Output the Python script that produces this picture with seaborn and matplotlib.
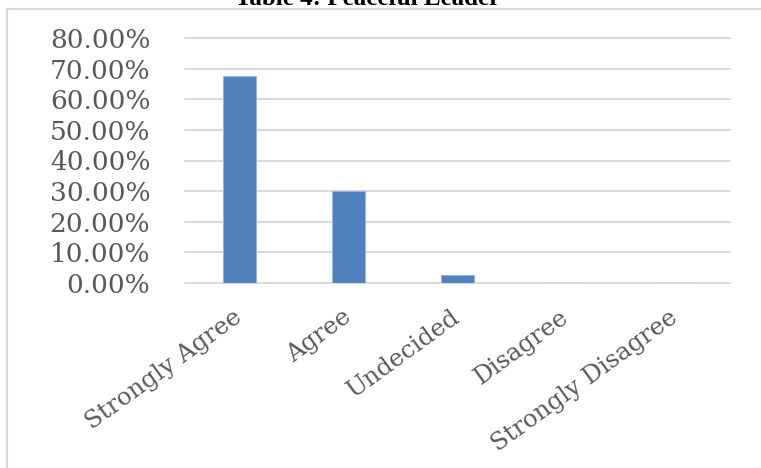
import matplotlib
matplotlib.use("Agg")
import matplotlib.pyplot as plt
import seaborn as sns
from matplotlib.patches import Rectangle
from matplotlib.ticker import FuncFormatter, MultipleLocator

# Survey responses for "Peaceful Leader" (percent of respondents)
categories = ["Strongly Agree", "Agree", "Undecided", "Disagree", "Strongly Disagree"]
percentages = [67.5, 30.0, 2.5, 0.0, 0.0]
title_text = "Table 4: Peaceful Leader"

sns.set_style("white")

W, H = 761, 468
fig = plt.figure(figsize=(W / 100, H / 100), dpi=100)
ax = fig.add_axes([185 / W, 1 - 283 / H, (730 - 185) / W, (283 - 38) / H])

sns.barplot(x=categories, y=percentages, color="#4f81bd", width=0.31,
            edgecolor="#9bb4dc", linewidth=0.8, saturation=1, ax=ax)

ax.set_xlim(-0.5, len(categories) - 0.5)
ax.set_ylim(0, 80)
ax.yaxis.set_major_locator(MultipleLocator(10))
ax.yaxis.set_major_formatter(FuncFormatter(lambda v, _: f"{v:.2f}%"))
ax.set_xlabel("")
ax.set_ylabel("")

ax.yaxis.grid(True, color="#d9d9d9", linewidth=1.4)
ax.set_axisbelow(True)
for gl in ax.get_ygridlines():
    gl.set_clip_on(False)
for s in ax.spines.values():
    s.set_visible(False)

ax.tick_params(axis="both", length=0)
ax.tick_params(axis="y", pad=25, labelsize=19, labelcolor="#595959")
for lab in ax.get_yticklabels():
    lab.set_fontfamily("DejaVu Serif")

ax.tick_params(axis="x", pad=23, labelsize=17.5, labelcolor="#595959")
for lab in ax.get_xticklabels():
    lab.set_fontfamily("DejaVu Serif")
    lab.set_rotation(36)
    lab.set_ha("right")
    lab.set_va("center")
    lab.set_rotation_mode("anchor")

# light chart-area frame
fig.patches.append(Rectangle((7 / W, -0.05), 1.2, 1 - 9 / H + 0.05,
                             transform=fig.transFigure, fill=False,
                             edgecolor="#d9d9d9", linewidth=1.5))

fig.text(368 / W, 1 - 5 / H, title_text, ha="center", va="baseline",
         fontsize=18, fontweight="bold", family="Liberation Serif", color="black")

fig.savefig("out.png", dpi=100)
